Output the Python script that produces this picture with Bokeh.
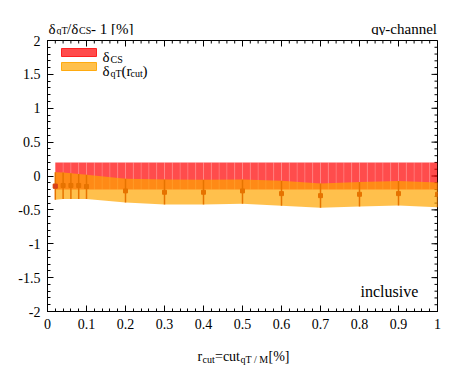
from bokeh.plotting import figure
from bokeh.models import Range1d, FixedTicker, Label
from bokeh.layouts import column
from bokeh.core.properties import value
from bokeh.embed import file_html
from bokeh.resources import INLINE

# ---- data ----
x_pts = [0.02, 0.04, 0.06, 0.08, 0.1, 0.2, 0.3, 0.4, 0.5, 0.6, 0.7, 0.8, 0.9, 1.0]
central = [-0.15, -0.14, -0.14, -0.14, -0.155, -0.22, -0.24, -0.24, -0.22, -0.26, -0.29, -0.27, -0.26, -0.27]
upper = [0.055, 0.05, 0.04, 0.03, 0.02, -0.04, -0.05, -0.055, -0.05, -0.07, -0.11, -0.09, -0.075, -0.095]
lower = [-0.35, -0.34, -0.34, -0.34, -0.34, -0.39, -0.42, -0.42, -0.41, -0.44, -0.47, -0.45, -0.435, -0.46]

cs_edges = [round(0.02 + 0.02 * i, 2) for i in range(50)]
cs_lo = -0.2
cs_hi = 0.2

x_ticks = [0, 0.1, 0.2, 0.3, 0.4, 0.5, 0.6, 0.7, 0.8, 0.9, 1.0]
x_tick_labels = ["0", "0.1", "0.2", "0.3", "0.4", "0.5", "0.6", "0.7", "0.8", "0.9", "1"]
y_ticks = [-2, -1.5, -1, -0.5, 0, 0.5, 1, 1.5, 2]
y_tick_labels = ["-2", "-1.5", "-1", "-0.5", "0", "0.5", "1", "1.5", "2"]
x_minor = [round(0.02 * i, 2) for i in range(51)]
y_minor = [round(-2 + 0.1 * i, 1) for i in range(41)]

FONT = "Liberation Serif"
RED = "#ff0000"
ORANGE = "#ffa500"
BAR = "#e67300"

W = 450
# frame geometry in page pixels
FL, FR, FT, FB = 47, 437, 40, 311
TOP_H = 35          # header strip height
MAIN_TOP = FT - TOP_H
MAIN_BOT = 28
MAIN_H = MAIN_TOP + (FB - FT) + MAIN_BOT
BOT_Y0 = TOP_H + MAIN_H
BOT_H = 26

# ---------- header strip (its frame is aligned with the main frame horizontally) ----------
top = figure(width=W, height=TOP_H, x_range=Range1d(FL, FR), y_range=Range1d(TOP_H, 0),
             output_backend="svg", toolbar_location=None, x_axis_type=None, y_axis_type=None,
             min_border=0, min_border_left=FL, min_border_right=W - FR)
top.outline_line_color = None
top.background_fill_color = "white"
top.border_fill_color = "white"

def ttxt(fig, s, px, py, size, align="left"):
    fig.text(x=[px], y=[py], text=[s], text_font=value(FONT), text_font_size=size,
             text_color="black", text_align=align, text_baseline="alphabetic")

ttxt(top, "δ", 48, 28, "15px")
ttxt(top, "qT", 56, 30, "10px")
ttxt(top, "/δ", 66.5, 28, "15px")
ttxt(top, "CS", 78.5, 30, "10px")
ttxt(top, " - 1 [%]", 90.5, 28, "15px")
ttxt(top, "qγ-channel", 436.5, 28, "15px", align="right")

# ---------- main plot ----------
p = figure(width=W, height=MAIN_H, x_range=Range1d(0, 1), y_range=Range1d(-2, 2),
           output_backend="svg", toolbar_location=None,
           min_border_left=FL, min_border_right=W - FR, min_border_top=MAIN_TOP,
           min_border_bottom=MAIN_BOT)
p.xgrid.visible = False
p.ygrid.visible = False
p.outline_line_color = "black"
p.background_fill_color = "white"
p.border_fill_color = "white"

def style_axis(ax, ticks, minor, labels):
    ax.ticker = FixedTicker(ticks=ticks, minor_ticks=minor)
    ax.major_tick_in = 6
    ax.major_tick_out = 0
    ax.minor_tick_in = 3
    ax.minor_tick_out = 0
    ax.axis_line_color = "black"
    ax.major_tick_line_color = "black"
    ax.minor_tick_line_color = "black"
    ax.major_label_overrides = {t: l for t, l in zip(ticks, labels)}
    ax.major_label_text_font = FONT
    ax.major_label_text_font_size = "14px"
    ax.major_label_text_color = "black"
    ax.major_label_standoff = 7

style_axis(p.xaxis[0], x_ticks, x_minor, x_tick_labels)
style_axis(p.yaxis[0], y_ticks, y_minor, y_tick_labels)

# mirrored ticks on top and right edges (inside the frame)
tx = 6 / float(FR - FL)
ty = 6 / ((FB - FT) / 4.0)
p.segment(x0=x_ticks, y0=2, x1=x_ticks, y1=2 - ty, line_color="black", line_width=1)
p.segment(x0=x_minor, y0=2, x1=x_minor, y1=2 - ty / 2, line_color="black", line_width=1)
p.segment(x0=1, y0=y_ticks, x1=1 - tx, y1=y_ticks, line_color="black", line_width=1)
p.segment(x0=1, y0=y_minor, x1=1 - tx / 2, y1=y_minor, line_color="black", line_width=1)

# red CS band built from bins
p.quad(left=cs_edges[:-1], right=cs_edges[1:], bottom=cs_lo, top=cs_hi,
       fill_color=RED, fill_alpha=0.7, line_alpha=0)
p.segment(x0=cs_edges[1:-1], y0=cs_lo, x1=cs_edges[1:-1], y1=cs_hi,
          line_color="white", line_alpha=0.18, line_width=1)

# orange qT band
p.varea(x=x_pts, y1=lower, y2=upper, fill_color=ORANGE, fill_alpha=0.7)

# error bars and markers
p.segment(x0=x_pts, y0=lower, x1=x_pts, y1=upper, line_color=BAR, line_width=1.5)
p.scatter(x=x_pts, y=central, marker="square", size=4, color=BAR)
p.scatter(x=x_pts[:1], y=central[:1], marker="square", size=4, color="#d8401a")

def dx(px):
    return (px - FL) / float(FR - FL)

def dy(py):
    return 2 + (FT - py) / ((FB - FT) / 4.0)

def ptxt(s, px, py, size, align="left"):
    p.add_layout(Label(x=dx(px), y=dy(py), text=s, text_font=FONT, text_font_size=size,
                       text_color="black", text_align=align, text_baseline="alphabetic"))

ptxt("inclusive", 360, 291, "16px")

# legend
p.quad(left=[dx(61)], right=[dx(96)], bottom=[dy(56)], top=[dy(48)],
       fill_color=RED, fill_alpha=0.7, line_color=RED, line_alpha=0.8)
p.quad(left=[dx(61)], right=[dx(96)], bottom=[dy(70)], top=[dy(62)],
       fill_color=ORANGE, fill_alpha=0.7, line_color=ORANGE, line_alpha=0.9)
ptxt("δ", 102, 56, "15px")
ptxt("CS", 110, 59, "10px")
ptxt("δ", 102, 70, "15px")
ptxt("qT", 110, 73, "10px")
ptxt("(r", 121, 70, "15px")
ptxt("cut", 130, 73, "10px")
ptxt(")", 142, 70, "15px")

# ---------- x-axis title strip ----------
bot = figure(width=W, height=BOT_H, x_range=Range1d(FL, FR), y_range=Range1d(BOT_Y0 + BOT_H, BOT_Y0),
             output_backend="svg", toolbar_location=None, x_axis_type=None, y_axis_type=None,
             min_border=0, min_border_left=FL, min_border_right=W - FR)
bot.outline_line_color = None
bot.background_fill_color = "white"
bot.border_fill_color = "white"

ttxt(bot, "r", 197, 356, "14px")
ttxt(bot, "cut", 202, 359, "10px")
ttxt(bot, "=cut", 214.5, 356, "14px")
ttxt(bot, "qT / M", 240, 359, "10px")
ttxt(bot, " [%]", 268, 356, "14px")

layout = column(top, p, bot, spacing=0)
open("out.html", "w").write(file_html(layout, INLINE))
